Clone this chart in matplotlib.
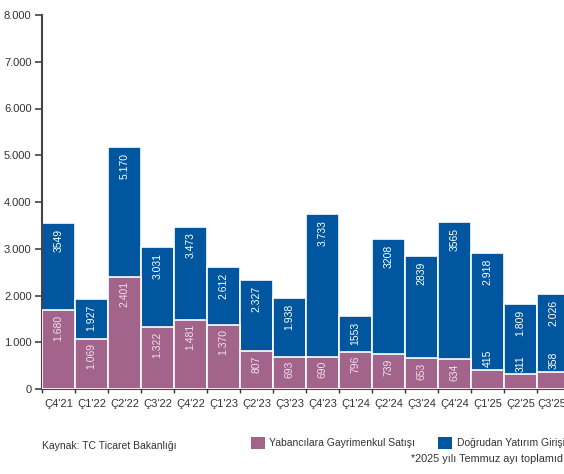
import matplotlib
matplotlib.use('Agg')
import matplotlib.pyplot as plt
from matplotlib.patches import Rectangle
import numpy as np

plt.rcParams['font.family'] = ['Liberation Sans Narrow', 'Liberation Sans', 'DejaVu Sans']

quarters = ["Ç4'21", "Ç1'22", "Ç2'22", "Ç3'22", "Ç4'22", "Ç1'23", "Ç2'23", "Ç3'23",
            "Ç4'23", "Ç1'24", "Ç2'24", "Ç3'24", "Ç4'24", "Ç1'25", "Ç2'25", "Ç3'25*"]
gayrimenkul = [1680, 1069, 2401, 1322, 1481, 1370, 807, 693, 690, 796, 739, 653, 634, 415, 311, 358]
yatirim = [3549, 1927, 5170, 3031, 3473, 2612, 2327, 1938, 3733, 1553, 3208, 2839, 3565, 2918, 1809, 2026]
gayrimenkul_lbl = ['1.680', '1.069', '2.401', '1.322', '1.481', '1.370', '807', '693', '690', '796',
                   '739', '653', '634', '415', '311', '358']
yatirim_lbl = ['3549', '1.927', '5.170', '3.031', '3.473', '2.612', '2.327', '1.938', '3.733', '1553',
               '3208', '2839', '3565', '2.918', '1.809', '2.026']
yticks = [0, 1000, 2000, 3000, 4000, 5000, 6000, 7000, 8000]
ytick_lbl = ['0', '1.000', '2.000', '3.000', '4.000', '5.000', '6.000', '7.000', '8.000']

pink = '#A3648B'
blue = '#0057A0'
txt = '#333333'

W, H = 564, 474
fig = plt.figure(figsize=(W / 100, H / 100), dpi=100)
ax = fig.add_axes([42 / W, 85 / H, 528 / W, 374 / H])

x = np.arange(len(quarters))
ax.bar(x, yatirim, width=1.0, color=blue, edgecolor='white', linewidth=1.2, zorder=2)
ax.bar(x, gayrimenkul, width=1.0, color=pink, edgecolor='white', linewidth=1.2, zorder=3)

for i in range(len(x)):
    ax.annotate(yatirim_lbl[i], (x[i], yatirim[i]), xytext=(0, -4), textcoords='offset points',
                rotation=90, ha='center', va='top', color='white', fontsize=7.5, zorder=4)
    if gayrimenkul[i] >= 600:
        ax.annotate(gayrimenkul_lbl[i], (x[i], gayrimenkul[i]), xytext=(0, -3), textcoords='offset points',
                    rotation=90, ha='center', va='top', color='#F0E0EA', fontsize=7.5, zorder=4)
    else:
        ax.annotate(gayrimenkul_lbl[i], (x[i], gayrimenkul[i]), xytext=(0, 2), textcoords='offset points',
                    rotation=90, ha='center', va='bottom', color='white', fontsize=7.5, zorder=4)

ax.set_xlim(-0.5, len(x) - 0.5)
ax.set_ylim(0, 8000)
ax.set_yticks(yticks)
ax.set_yticklabels(ytick_lbl)
ax.set_xticks(x)
ax.set_xticklabels(quarters)
ax.set_xticks(np.arange(len(x) + 1) - 0.5, minor=True)
ax.tick_params(axis='x', which='major', length=0, pad=7, labelsize=8, labelcolor=txt)
ax.tick_params(axis='x', which='minor', length=3, width=1, color='#333333', direction='out')
ax.tick_params(axis='y', length=5, width=1.2, color='#444444', pad=2.5, labelsize=8, labelcolor=txt)

for s in ['top', 'right']:
    ax.spines[s].set_visible(False)
ax.spines['left'].set_color('#444444')
ax.spines['left'].set_linewidth(1.5)
ax.spines['bottom'].set_color('#444444')
ax.spines['bottom'].set_linewidth(1.5)

fig.text(42 / W, 1 - 446 / H, 'Kaynak: TC Ticaret Bakanlığı', fontsize=7.5, color=txt, va='center')
fig.add_artist(Rectangle((251 / W, 1 - 449 / H), 14 / W, 12 / H, transform=fig.transFigure,
                         facecolor=pink, edgecolor='none'))
fig.text(269 / W, 1 - 443 / H, 'Yabancılara Gayrimenkul Satışı', fontsize=7.5, color=txt, va='center')
fig.add_artist(Rectangle((438 / W, 1 - 449 / H), 14 / W, 12 / H, transform=fig.transFigure,
                         facecolor=blue, edgecolor='none'))
fig.text(457 / W, 1 - 443 / H, 'Doğrudan Yatırım Girişi', fontsize=7.5, color=txt, va='center')
fig.text(411 / W, 1 - 459 / H, '*2025 yılı Temmuz ayı toplamıdır', fontsize=7.8, color=txt, va='center')

fig.savefig('out.png', dpi=100)
